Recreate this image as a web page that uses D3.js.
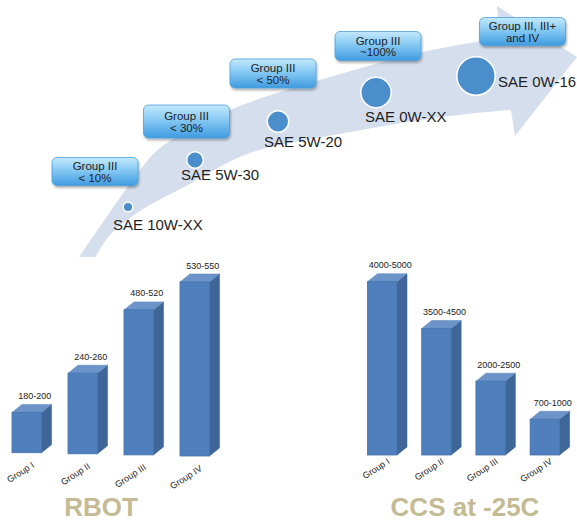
<!DOCTYPE html>
<html>
<head>
<meta charset="utf-8">
<script src="https://cdn.jsdelivr.net/npm/d3@7"></script>
<style>
  html, body { margin: 0; padding: 0; background: #fff; }
  svg { display: block; font-family: "Liberation Sans", Arial, sans-serif; }
</style>
</head>
<body>
<svg id="chart" width="577" height="521"></svg>
<script>
// ---------------- DATA ----------------
const oilGrades = ["SAE 10W-XX", "SAE 5W-30", "SAE 5W-20", "SAE 0W-XX", "SAE 0W-16"];
const boxLine1 = ["Group III", "Group III", "Group III", "Group III", "Group III, III+"];
const boxLine2 = ["< 10%", "< 30%", "< 50%", "~100%", "and IV"];
const groupIIIShare = [10, 30, 50, 100, 160];   // bubble size

const categories = ["Group I", "Group II", "Group III", "Group IV"];
const rbotValues = [125, 250, 450, 540];
const rbotLabels = ["180-200", "240-260", "480-520", "530-550"];
const ccsValues = [5000, 3650, 2130, 1030];
const ccsLabels = ["4000-5000", "3500-4500", "2000-2500", "700-1000"];

// ---------------- LAYOUT ----------------
const svg = d3.select("#chart");
const defs = svg.append("defs");

const grad = defs.append("linearGradient").attr("id", "boxGrad")
  .attr("x1", 0).attr("y1", 0).attr("x2", 0).attr("y2", 1);
grad.append("stop").attr("offset", "0%").attr("stop-color", "#c4e9fc");
grad.append("stop").attr("offset", "45%").attr("stop-color", "#86c9f3");
grad.append("stop").attr("offset", "100%").attr("stop-color", "#3f9be0");

const shadow = defs.append("filter").attr("id", "shadow")
  .attr("x", "-20%").attr("y", "-20%").attr("width", "140%").attr("height", "160%");
shadow.append("feDropShadow").attr("dx", 1).attr("dy", 2).attr("stdDeviation", 1.2)
  .attr("flood-color", "#000").attr("flood-opacity", 0.3);

defs.append("clipPath").attr("id", "arrowClip")
  .append("rect").attr("x", 0).attr("y", 0).attr("width", 577).attr("height", 257);

// Arrow (background band)
const upperEdge = [[74, 266], [80, 256], [117, 202], [140, 170], [160, 148], [230, 110], [320, 80], [423, 52], [500, 38]];
const lowerEdge = [[511, 110], [450, 116], [350, 132], [250, 153], [184, 187], [140, 211], [110, 235], [95, 258], [92, 266]];
const edgeLine = d3.line().curve(d3.curveCatmullRom.alpha(0.5));
const headPts = [[497, 6], [577, 57], [515, 136]];
const arrowD = edgeLine(upperEdge) + "L" + headPts.map(p => p.join(",")).join("L") +
  "L" + edgeLine(lowerEdge).slice(1) + "Z";
svg.append("path").attr("d", arrowD).attr("fill", "#d4deed")
  .attr("clip-path", "url(#arrowClip)");

// Step layout
const dotPos = [[128, 207], [195, 160], [278, 121.5], [376, 92.5], [476, 76]];
const labelPos = [[113, 230], [181, 180], [264, 147], [365, 122], [498, 87]];
const boxPos = [[95, 171.5], [186.5, 121.5], [273, 73.5], [378, 46], [522.5, 31.5]];
const boxH = [28, 33, 29, 29, 28];
const boxW = 86;

const rScale = d3.scaleSqrt().domain([0, 100]).range([0, 15.2]);

const boxes = svg.append("g").selectAll("g").data(oilGrades).join("g");
boxes.append("rect")
  .attr("x", (d, i) => boxPos[i][0] - boxW / 2)
  .attr("y", (d, i) => boxPos[i][1] - boxH[i] / 2)
  .attr("width", boxW).attr("height", (d, i) => boxH[i])
  .attr("rx", 5).attr("ry", 5)
  .attr("fill", "url(#boxGrad)").attr("stroke", "#4a9fdc").attr("stroke-width", 0.8)
  .attr("filter", "url(#shadow)");
boxes.append("text")
  .attr("x", (d, i) => boxPos[i][0]).attr("y", (d, i) => boxPos[i][1] - 1.5)
  .attr("text-anchor", "middle").attr("font-size", 11.5).attr("fill", "#222")
  .text((d, i) => boxLine1[i]);
boxes.append("text")
  .attr("x", (d, i) => boxPos[i][0]).attr("y", (d, i) => boxPos[i][1] + 10)
  .attr("text-anchor", "middle").attr("font-size", 11.5).attr("fill", "#222")
  .text((d, i) => boxLine2[i]);

svg.append("g").selectAll("circle").data(groupIIIShare).join("circle")
  .attr("cx", (d, i) => dotPos[i][0]).attr("cy", (d, i) => dotPos[i][1])
  .attr("r", d => rScale(d))
  .attr("fill", "#4a8fcb").attr("stroke", "#fff").attr("stroke-width", 1.5);

svg.append("g").selectAll("text").data(oilGrades).join("text")
  .attr("x", (d, i) => labelPos[i][0]).attr("y", (d, i) => labelPos[i][1])
  .attr("font-size", 15).attr("fill", "#1e1e1e")
  .text(d => d);

// ---------------- 3D BAR CHARTS ----------------
const depthX = 10, depthY = 8;

function barChart(opts) {
  const { values, labels, xRange, padInner, yMax, hMax, baseY, baseSlope, catDy, title, titleX } = opts;
  const x = d3.scaleBand().domain(categories).range(xRange).paddingInner(padInner).paddingOuter(0);
  const h = d3.scaleLinear().domain([0, yMax]).range([0, hMax]);
  const bw = x.bandwidth();
  const base = (i) => baseY + baseSlope * i;
  const g = svg.append("g");
  const bars = g.selectAll("g").data(values).join("g");

  // side face
  bars.append("path")
    .attr("d", (d, i) => {
      const x0 = x(categories[i]) + bw, top = base(i) - h(d), b = base(i);
      return `M${x0},${top}L${x0 + depthX},${top - depthY}L${x0 + depthX},${b - depthY}L${x0},${b}Z`;
    })
    .attr("fill", "#3e6699").attr("stroke", "#365c8c").attr("stroke-width", 0.5);
  // top face
  bars.append("path")
    .attr("d", (d, i) => {
      const x0 = x(categories[i]), top = base(i) - h(d);
      return `M${x0},${top}L${x0 + depthX},${top - depthY}L${x0 + bw + depthX},${top - depthY}L${x0 + bw},${top}Z`;
    })
    .attr("fill", "#6c94c9").attr("stroke", "#5a83b8").attr("stroke-width", 0.5);
  // front face
  bars.append("rect")
    .attr("x", (d, i) => x(categories[i]))
    .attr("y", (d, i) => base(i) - h(d))
    .attr("width", bw).attr("height", d => h(d))
    .attr("fill", "#4f80bd").attr("stroke", "#4272ad").attr("stroke-width", 0.8);

  // value labels
  g.selectAll("text.val").data(labels).join("text").attr("class", "val")
    .attr("x", (d, i) => x(categories[i]) + bw / 2 + 8)
    .attr("y", (d, i) => base(i) - h(values[i]) - 13.5)
    .attr("text-anchor", "middle").attr("font-size", 9).attr("fill", "#222")
    .text(d => d);

  // category labels
  g.selectAll("text.cat").data(categories).join("text").attr("class", "cat")
    .attr("transform", (d, i) => `translate(${x(d) + bw / 2 + 8},${base(i) + catDy}) rotate(-33)`)
    .attr("text-anchor", "end").attr("font-size", 9).attr("fill", "#222")
    .text(d => d);

  // title
  svg.append("text").attr("x", titleX).attr("y", 515.5)
    .attr("text-anchor", "middle").attr("font-size", 26).attr("font-weight", "bold")
    .attr("fill", "#c4bb94").text(title);
}

barChart({
  values: rbotValues, labels: rbotLabels,
  xRange: [12, 209.5], padInner: 0.473,
  yMax: 540, hMax: 174, baseY: 452.7, baseSlope: 1.1, catDy: 14,
  title: "RBOT", titleX: 101
});
barChart({
  values: ccsValues, labels: ccsLabels,
  xRange: [367.5, 559.6], padInner: 0.456,
  yMax: 5000, hMax: 173.3, baseY: 455, baseSlope: 0, catDy: 8,
  title: "CCS at -25C", titleX: 465
});
</script>
</body>
</html>
